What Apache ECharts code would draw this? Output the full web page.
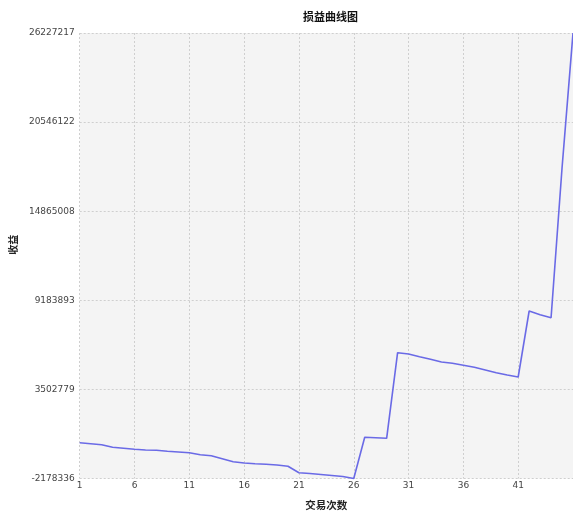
<!DOCTYPE html>
<html>
<head>
<meta charset="utf-8">
<script src="https://cdn.jsdelivr.net/npm/echarts@6/dist/echarts.min.js"></script>
<style>
html,body{margin:0;padding:0;background:#fff;}
#chart{width:573px;height:516px;}
</style>
</head>
<body>
<div id="chart"></div>
<script>
// Trade index categories (1..46)
const categories = ['1','2','3','4','5','6','7','8','9','10','11','12','13','14','15','16','17','18','19','20','21','22','23','24','25','26','27','28','29','30','31','32','33','34','35','36','37','38','39','40','41','42','43','44','45','46'];
// Profit/loss values
const profitValues = [104335, 40574, -23187, -188965, -252726, -316487, -361120, -380248, -444009, -488642, -533275, -660797, -724558, -915841, -1107124, -1190013, -1234646, -1272902, -1317535, -1400424, -1808495, -1859503, -1923264, -1987025, -2050786, -2178336, 448645, 423140, 384884, 5842825, 5759936, 5587781, 5422003, 5249848, 5166959, 5039437, 4911915, 4739760, 4567605, 4420955, 4293433, 8501659, 8265743, 8074460, 17619482, 26227217];
// Y tick labels as printed in the picture
const yTickLabels = ['-2178336', '3502779', '9183893', '14865008', '20546122', '26227217'];
const yMin = -2178336;
const yMax = 26227217;

const chart = echarts.init(document.getElementById('chart'), null, {renderer: 'canvas'});
const span = yMax - yMin;
const option = {
  animation: false,
  title: {
    text: '损益曲线图',
    left: 325.5,
    top: 6,
    textAlign: 'center',
    textStyle: {fontFamily: 'Noto Sans CJK SC', fontSize: 11, fontWeight: 'bold', color: '#111'}
  },
  grid: {
    left: 76, right: -2, top: 33, bottom: 37.5,
    show: true, backgroundColor: '#f4f4f4', borderWidth: 0
  },
  xAxis: {
    type: 'category',
    data: categories,
    boundaryGap: false,
    name: '交易次数',
    nameLocation: 'middle',
    nameGap: 21,
    nameTextStyle: {fontFamily: 'Noto Sans CJK SC', fontSize: 10.5, fontWeight: 'bold', color: '#222'},
    axisLine: {show: false},
    axisTick: {show: false},
    axisLabel: {
      interval: function (idx) { return idx % 5 === 0 && idx < 45; },
      margin: 3,
      fontFamily: 'DejaVu Sans', fontSize: 9, color: '#444'
    },
    splitLine: {
      show: true,
      interval: function (idx) { return idx % 5 === 0; },
      lineStyle: {color: '#cfcfcf', type: [2, 2], width: 1}
    }
  },
  yAxis: {
    type: 'value',
    min: 0,
    max: span,
    interval: span / 5,
    name: '收益',
    nameLocation: 'middle',
    nameGap: 60,
    nameTextStyle: {fontFamily: 'Noto Sans CJK SC', fontSize: 10, fontWeight: 'bold', color: '#222', padding: [0, 0, 0, 22]},
    axisLine: {show: false},
    axisTick: {show: false},
    axisLabel: {
      margin: 5,
      fontFamily: 'DejaVu Sans', fontSize: 9, color: '#444',
      formatter: function (v, i) { return yTickLabels[i]; }
    },
    splitLine: {
      show: true,
      lineStyle: {color: '#cfcfcf', type: [2, 2], width: 1}
    }
  },
  series: [{
    type: 'line',
    data: profitValues.map(v => v - yMin),
    symbol: 'none',
    lineStyle: {color: '#6a6ae6', width: 1.6},
    clip: false
  }]
};
chart.setOption(option);
</script>
</body>
</html>
